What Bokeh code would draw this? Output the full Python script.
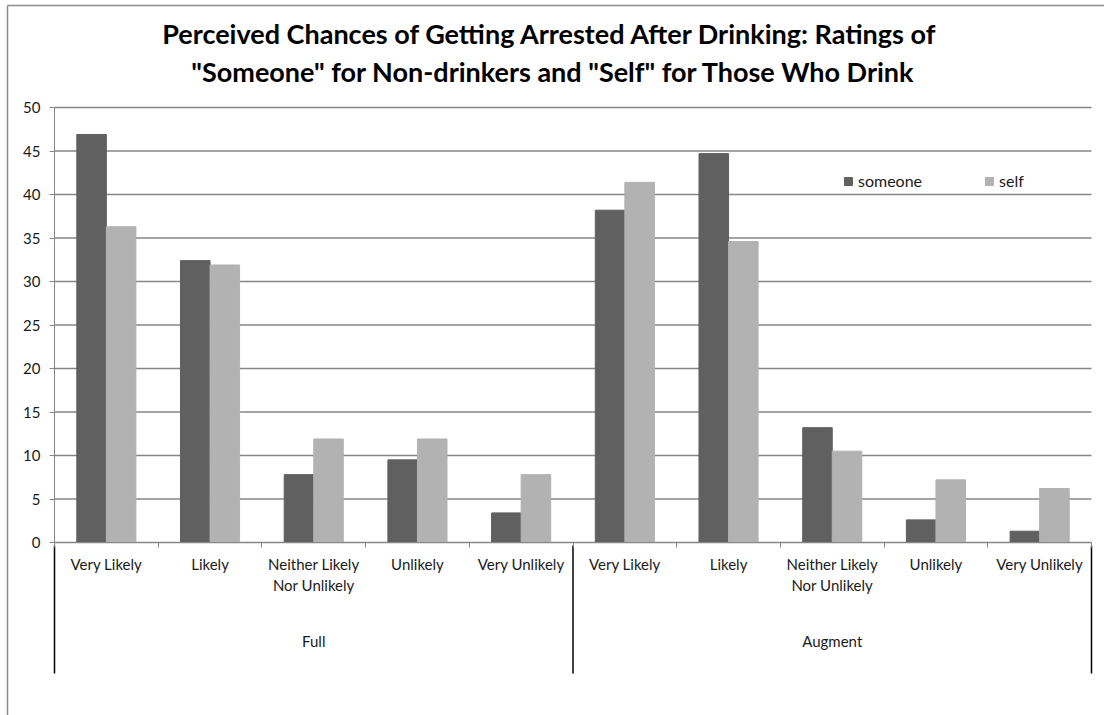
from bokeh.plotting import figure
from bokeh.models import (ColumnDataSource, Range1d, LinearAxis, FixedTicker, Label,
                          Legend, LegendItem)
from bokeh.transform import dodge
from bokeh.embed import file_html
from bokeh.resources import INLINE

# ---- data ----
groups = ["Full", "Augment"]
ratings = ["Very Likely", "Likely", "Neither Likely\nNor Unlikely", "Unlikely", "Very Unlikely"]
series = ["someone", "self"]
someone_full = [46.9, 32.4, 7.8, 9.5, 3.4]
self_full = [36.3, 31.9, 11.9, 11.9, 7.8]
someone_augment = [38.2, 44.7, 13.2, 2.6, 1.3]
self_augment = [41.4, 34.6, 10.5, 7.2, 6.2]
y_ticks = [0, 5, 10, 15, 20, 25, 30, 35, 40, 45, 50]
title_lines = ["Perceived Chances of Getting Arrested After Drinking:  Ratings of",
               "\"Someone\" for Non-drinkers and \"Self\" for Those Who Drink"]

colors = ["#606060", "#b2b2b2"]
FONT = "Lato"
TXT = "#1a1a1a"
GRID = "#868686"

n_r = len(ratings)
n = len(groups) * n_r
pos = [i + 0.5 for i in range(n)]
someone = someone_full + someone_augment
self_vals = self_full + self_augment
src = ColumnDataSource(dict(x=pos, someone=someone, self=self_vals))

# page geometry (pixels)
W, H = 1104, 715
X0, X1 = 54, 1091          # plot area left/right
Y0, Y50 = 542, 107         # pixel rows of value 0 and value 50
sx = (X1 - X0) / n         # px per category
sy = (Y0 - Y50) / 50.0     # px per unit

def dx(px):
    return (px - X0) / sx

def dy(py):
    return (Y0 - py) / sy

p = figure(width=W, height=H, output_backend="svg", toolbar_location=None, tools="",
           x_range=Range1d(dx(0), dx(W)), y_range=Range1d(dy(H), dy(0)),
           x_axis_location=None, y_axis_location=None,
           min_border_left=0, min_border_right=0, min_border_top=0, min_border_bottom=0)
p.title.text = ""
p.outline_line_color = None
p.background_fill_color = "white"
p.border_fill_color = "white"
p.xgrid.visible = False
p.ygrid.visible = False

# outer chart border (left and top edges visible in the page)
p.segment(x0=[dx(7), dx(7)], x1=[dx(7), dx(W + 10)], y0=[dy(5), dy(5)], y1=[dy(H + 10), dy(5)],
          line_color="#8c8c8c", line_width=1.5)

# horizontal gridlines across the plot area
p.segment(x0=[0] * len(y_ticks), x1=[n] * len(y_ticks), y0=y_ticks, y1=y_ticks,
          line_color=GRID, line_width=1.4)

# bars
bw = 0.285
r1 = p.vbar(x=dodge("x", -bw / 2), top="someone", width=bw, source=src,
            fill_color=colors[0], line_color=colors[0])
r2 = p.vbar(x=dodge("x", bw / 2), top="self", width=bw, source=src,
            fill_color=colors[1], line_color=colors[1])

# y axis
ya = LinearAxis(fixed_location=0, ticker=FixedTicker(ticks=y_ticks), bounds=(0, 50),
                axis_line_color=GRID, major_tick_line_color=GRID, major_tick_out=5,
                major_tick_in=0, minor_tick_line_color=None,
                major_label_text_font=FONT, major_label_text_font_size="15px",
                major_label_text_color=TXT, major_label_standoff=9)
p.add_layout(ya, "left")

# x axis line with boundary ticks at y=0
xa = LinearAxis(fixed_location=0, ticker=FixedTicker(ticks=list(range(n + 1))),
                bounds=(0, n),
                axis_line_color=GRID, major_tick_line_color=GRID, major_tick_out=5,
                major_tick_in=0, minor_tick_line_color=None,
                major_label_text_color=None, major_label_text_font_size="1px")
p.add_layout(xa, "below")

# category labels
cat_labels = ratings * len(groups)
xl = LinearAxis(fixed_location=0, ticker=FixedTicker(ticks=pos),
                major_label_overrides={pos[i]: cat_labels[i] for i in range(n)},
                axis_line_color=None, major_tick_line_color=None, minor_tick_line_color=None,
                major_tick_out=0, major_tick_in=0, major_label_standoff=12,
                major_label_text_font=FONT, major_label_text_font_size="15px",
                major_label_text_color=TXT)
p.add_layout(xl, "below")

# group labels
gpos = [(g + 0.5) * n_r for g in range(len(groups))]
gl = LinearAxis(fixed_location=0, ticker=FixedTicker(ticks=gpos),
                major_label_overrides={gpos[i]: groups[i] for i in range(len(groups))},
                axis_line_color=None, major_tick_line_color=None, minor_tick_line_color=None,
                major_tick_out=0, major_tick_in=0, major_label_standoff=89,
                major_label_text_font=FONT, major_label_text_font_size="15px",
                major_label_text_color=TXT)
p.add_layout(gl, "below")

# group separators
bounds = [g * n_r for g in range(len(groups) + 1)]
p.segment(x0=bounds, x1=bounds, y0=[dy(545)] * len(bounds), y1=[dy(673)] * len(bounds),
          line_color="black", line_width=1.5)

# legend
legend = Legend(items=[LegendItem(label=series[0], renderers=[r1]),
                       LegendItem(label=series[1], renderers=[r2])],
                orientation="horizontal", location=(843, H - 190),
                border_line_color=None, background_fill_alpha=0, padding=0, margin=0,
                glyph_width=10, glyph_height=10, label_height=18, label_standoff=5,
                spacing=62, label_text_font=FONT, label_text_font_size="16px",
                label_text_color=TXT)
p.add_layout(legend)

# title
for i, line in enumerate(title_lines):
    cy = 33 + 38 * i
    p.add_layout(Label(x=dx(553), y=dy(cy), text=line, text_align="center",
                       text_baseline="middle", text_font=FONT, text_font_style="bold",
                       text_font_size="27px", text_color="black"))

open("out.html", "w").write(file_html(p, INLINE))
